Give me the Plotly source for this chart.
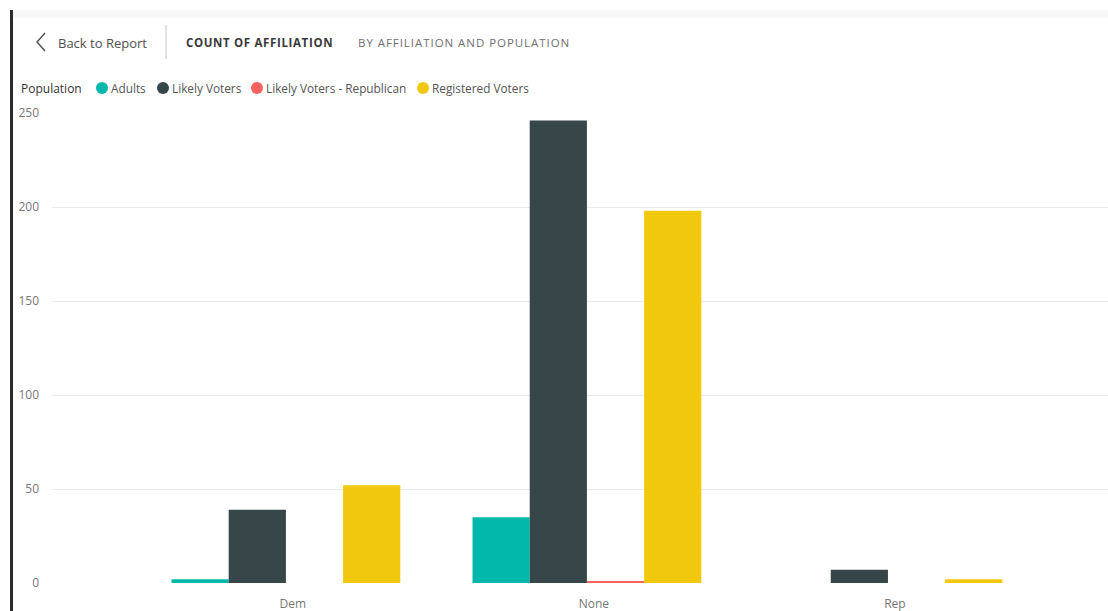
import plotly.graph_objects as go

categories = ["Dem", "None", "Rep"]
series_names = ["Adults", "Likely Voters", "Likely Voters - Republican", "Registered Voters"]
adults = [2, 35, 0]
likely_voters = [39, 246, 7]
likely_voters_rep = [0, 1, 0]
registered_voters = [52, 198, 2]
y_ticks = [0, 50, 100, 150, 200, 250]

colors = ["#01B8AA", "#374649", "#FD625E", "#F2C80F"]
values = [adults, likely_voters, likely_voters_rep, registered_voters]

W, H = 1108, 611
L, R, T, B = 52, 0, 113, 28
PW, PH = W - L - R, H - T - B


def px(x):
    return (x - L) / PW


def py(y):
    return (H - B - y) / PH


fig = go.Figure()
for name, vals, col in zip(series_names, values, colors):
    fig.add_trace(go.Bar(
        x=categories, y=vals, name=name,
        marker=dict(color=col, line=dict(width=0)),
        showlegend=False,
        hovertemplate="%{x}: %{y}<extra>" + name + "</extra>",
    ))

font_family = "Open Sans, Noto Sans, sans-serif"

shapes = []
annotations = []

# left dark bar and top band
shapes.append(dict(type="rect", xref="paper", yref="paper", x0=px(10), x1=px(13), y0=py(10), y1=py(611),
                   fillcolor="#2b2b2b", line=dict(width=0), layer="above"))
shapes.append(dict(type="rect", xref="paper", yref="paper", x0=px(13), x1=px(1108), y0=py(10), y1=py(18),
                   fillcolor="#f8f8f8", line=dict(width=0), layer="below"))
# back chevron
shapes.append(dict(type="path", xref="paper", yref="paper",
                   path=f"M {px(45)} {py(33)} L {px(37)} {py(42)} L {px(45)} {py(51)}",
                   line=dict(color="#555555", width=1.5)))
# separator
shapes.append(dict(type="line", xref="paper", yref="paper", x0=px(166), x1=px(166), y0=py(25), y1=py(59),
                   line=dict(color="#c8c8c8", width=1)))

annotations.append(dict(text="Back to Report", xref="paper", yref="paper", x=px(56), y=py(43),
                        xanchor="left", yanchor="middle", showarrow=False,
                        font=dict(family=font_family, size=13, color="#505050")))
annotations.append(dict(text="<span style='letter-spacing:0.65px'><b>COUNT OF AFFILIATION</b></span>",
                        xref="paper", yref="paper", x=px(184), y=py(42),
                        xanchor="left", yanchor="middle", showarrow=False,
                        font=dict(family=font_family, size=11.5, color="#3a3a3a")))
annotations.append(dict(text="<span style='letter-spacing:0.95px'>BY AFFILIATION AND POPULATION</span>",
                        xref="paper", yref="paper", x=px(356), y=py(42),
                        xanchor="left", yanchor="middle", showarrow=False,
                        font=dict(family=font_family, size=11.5, color="#707070")))

# legend (manual)
annotations.append(dict(text="Population", xref="paper", yref="paper", x=px(19), y=py(88),
                        xanchor="left", yanchor="middle", showarrow=False,
                        font=dict(family=font_family, size=12, color="#333333")))
legend_x = [96, 157, 251, 417]
for name, col, lx in zip(series_names, colors, legend_x):
    shapes.append(dict(type="circle", xref="paper", yref="paper",
                       x0=px(lx), x1=px(lx + 12), y0=py(82), y1=py(94),
                       fillcolor=col, line=dict(width=0)))
    annotations.append(dict(text=name, xref="paper", yref="paper", x=px(lx + 13), y=py(88),
                            xanchor="left", yanchor="middle", showarrow=False,
                            font=dict(family=font_family, size=11.8, color="#555555")))

fig.update_layout(
    width=W, height=H,
    margin=dict(l=L, r=R, t=T, b=B, autoexpand=False),
    paper_bgcolor="white", plot_bgcolor="white",
    barmode="group", bargap=0.24, bargroupgap=0,
    showlegend=False,
    shapes=shapes, annotations=annotations,
    font=dict(family=font_family),
    xaxis=dict(type="category", categoryorder="array", categoryarray=categories,
               range=[-0.777, 2.731], showgrid=False, zeroline=False, showline=False,
               ticks="", ticklabelstandoff=12, ticklabelshift=7,
               tickfont=dict(family=font_family, size=12, color="#777777")),
    yaxis=dict(range=[0, 250], tickvals=y_ticks, showgrid=True, gridcolor="#ebebeb", gridwidth=1,
               zeroline=False, showline=False, ticks="", ticklabelstandoff=12,
               tickfont=dict(family=font_family, size=12, color="#777777")),
)

fig.write_html("out.html")
